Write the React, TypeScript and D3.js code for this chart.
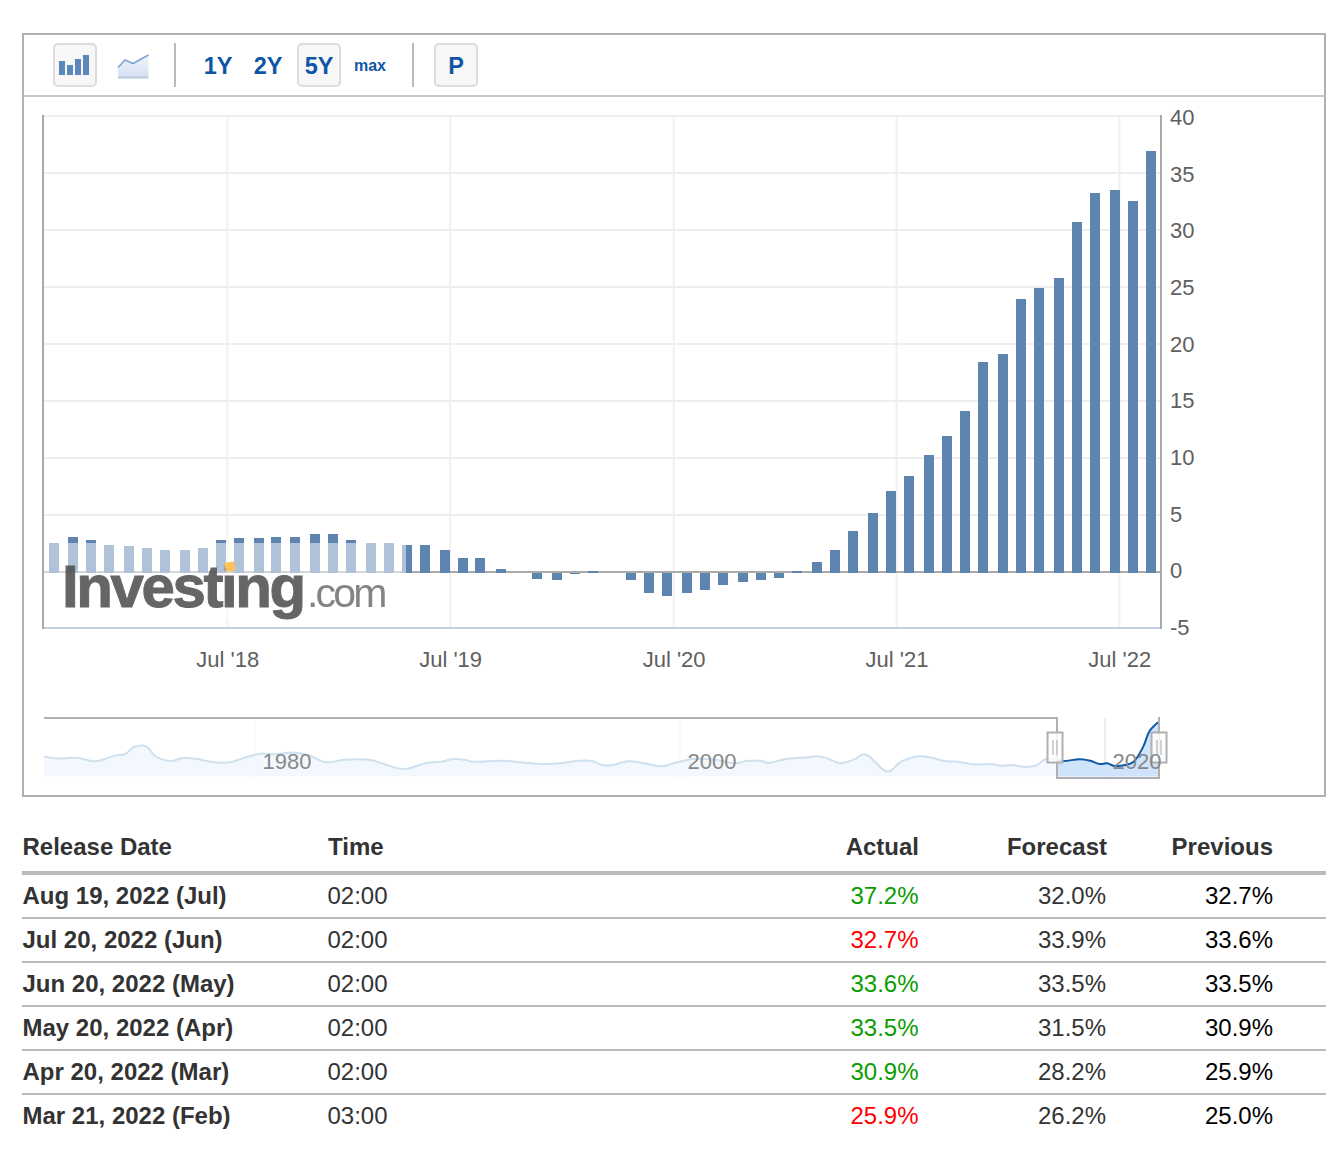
import * as d3 from "d3";

// ---- main chart data ----
const barDates = [
  "2017-09-20", "2017-10-22", "2017-11-20", "2017-12-20", "2018-01-22", "2018-02-20", "2018-03-22", "2018-04-23", "2018-05-23", "2018-06-21",
  "2018-07-20", "2018-08-22", "2018-09-20", "2018-10-20", "2018-11-22", "2018-12-21", "2019-01-20", "2019-02-22", "2019-03-23", "2019-04-22",
  "2019-05-21", "2019-06-23", "2019-07-22", "2019-08-20", "2019-09-23", "2019-10-22", "2019-11-20", "2019-12-23", "2020-01-22", "2020-02-20",
  "2020-03-24", "2020-04-23", "2020-05-22", "2020-06-20", "2020-07-23", "2020-08-22", "2020-09-20", "2020-10-23", "2020-11-22", "2020-12-21",
  "2021-01-20", "2021-02-21", "2021-03-23", "2021-04-21", "2021-05-24", "2021-06-23", "2021-07-22", "2021-08-24", "2021-09-22", "2021-10-22",
  "2021-11-20", "2021-12-23", "2022-01-22", "2022-02-20", "2022-03-25", "2022-04-23", "2022-05-23", "2022-06-25", "2022-07-24", "2022-08-22",
];
const barValues = [
  2.55, 3.1, 2.8, 2.4, 2.3, 2.1, 1.9, 1.9, 2.1, 2.8,
  3.0, 3.0, 3.1, 3.1, 3.3, 3.3, 2.8, 2.55, 2.55, 2.4,
  2.4, 1.9, 1.2, 1.2, 0.3, 0, -0.6, -0.7, -0.2, 0.1,
  0, -0.7, -1.8, -2.1, -1.8, -1.6, -1.1, -0.9, -0.7, -0.5,
  0.1, 0.9, 1.9, 3.6, 5.2, 7.1, 8.4, 10.3, 11.9, 14.1,
  18.4, 19.1, 24.0, 24.9, 25.8, 30.7, 33.3, 33.5, 32.6, 37.0,
];
const yTicks = [-5, 0, 5, 10, 15, 20, 25, 30, 35, 40];
const xTickDates = ["2018-07-01", "2019-07-01", "2020-07-01", "2021-07-01", "2022-07-01"];
const xTickLabels = ["Jul '18", "Jul '19", "Jul '20", "Jul '21", "Jul '22"];

// ---- navigator series (whole history) ----
const navYears = [
  1970.07, 1970.9, 1971.6, 1972.3, 1972.6, 1973.4, 1973.9, 1974.3, 1974.9, 1975.3,
  1976.05, 1976.6, 1977.3, 1977.65, 1978.3, 1978.9, 1979.4, 1980.25, 1980.85, 1981.85,
  1982.5, 1983.35, 1984.2, 1985.45, 1986.2, 1987.05, 1988.05, 1988.75, 1989.3, 1989.85,
  1990.25, 1991.6, 1992.6, 1993.6, 1994.35, 1995.1, 1995.85, 1996.4, 1996.8, 1997.55,
  1998.25, 1999.15, 1999.75, 2000.6, 2001.6, 2002.65, 2003.1, 2003.85, 2004.15, 2005,
  2006.1, 2006.5, 2007, 2007.5, 2008.25, 2008.55, 2008.85, 2009.25, 2009.65, 2009.9,
  2010.35, 2010.75, 2011.2, 2011.85, 2012.4, 2013.1, 2013.8, 2014.75, 2015.05, 2015.6,
  2016.3, 2016.8, 2017.2, 2018.05, 2018.8, 2019.3, 2019.75, 2020.1, 2020.4, 2020.95,
  2021.35, 2021.8, 2022.1, 2022.5,
];
const navValues = [
  7.0, 5.3, 6.1, 3.2, 3.2, 7.9, 9.3, 15.4, 15.7, 7.6,
  3.2, 5.8, 4.9, 3.5, 1.8, 2.4, 5.5, 9.6, 9.0, 10.5,
  8.4, 2.0, 4.4, 4.1, -0.3, -3.7, 1.5, 2.6, 4.9, 4.4,
  2.6, 3.5, 2.0, 0.6, 1.2, 3.2, 3.2, -0.5, -0.5, 2.9,
  1.5, -1.4, 1.5, 5.0, 4.5, 1.2, 3.2, 3.2, 1.5, 5.0,
  6.7, 7.3, 5.0, 1.5, 5.0, 8.7, 7.8, 1.2, -5.5, -5.5,
  2.1, 5.2, 7.3, 6.1, 3.2, 2.6, 0.3, 0.3, -0.9, -0.3,
  -2.0, -0.3, 4.7, 3.2, 4.7, 3.5, 0.6, 1.2, -0.9, -0.3,
  2.6, 15.7, 29.3, 37.0,
];
const navTickYears = [1980, 2000, 2020];

// ---- table ----
const tableHeaders = ["Release Date", "Time", "Actual", "Forecast", "Previous"];
const releaseLabels = ["Aug 19, 2022 (Jul)", "Jul 20, 2022 (Jun)", "Jun 20, 2022 (May)", "May 20, 2022 (Apr)", "Apr 20, 2022 (Mar)", "Mar 21, 2022 (Feb)"];
const releaseTimes = ["02:00", "02:00", "02:00", "02:00", "02:00", "03:00"];
const actuals = [37.2, 32.7, 33.6, 33.5, 30.9, 25.9];
const forecasts = [32.0, 33.9, 33.5, 31.5, 28.2, 26.2];
const previous = [32.7, 33.6, 33.5, 30.9, 25.9, 25.0];

const FONT = "'Liberation Sans', Arial, sans-serif";
const BLUE = "#0f56a6";
const BAR = "#5e84b0";

const parse = (s: string) => new Date(s + "T00:00:00Z");

// plot box
const plotLeft = 43;
const plotRight = 1161;
const plotTop = 116;
const plotBottom = 628;

const x = d3.scaleUtc().domain([parse("2018-07-01"), parse("2022-07-01")]).range([227, 1119]);
const y = d3.scaleLinear().domain([-5, 40]).range([629, 116.4]);
// tick labels sit on a slightly tighter step than the grid
const yLabel = d3.scaleLinear().domain([-5, 40]).range([635, 125]);

// navigator
const navX = d3.scaleLinear().domain([1980, 2020]).range([255, 1105]);
const navY = d3.scaleLinear().domain([0, 37]).range([764.7, 722.2]);
const navBase = 776.5;
const navData = navYears.map((yr, i) => [yr, navValues[i]] as [number, number]);
const navCurve = d3.curveCatmullRom.alpha(0.5);
const navLine = d3.line<[number, number]>().x((d) => navX(d[0])).y((d) => navY(d[1])).curve(navCurve);
const navArea = d3.area<[number, number]>().x((d) => navX(d[0])).y0(navBase).y1((d) => navY(d[1])).curve(navCurve);

function ToolButton({ x: bx }: { x: number }) {
  return <rect x={bx} y={44} width={42} height={42} rx={4} fill="#f7f7f7" stroke="#dcdcdc" strokeWidth={2} />;
}

function Handle({ cx }: { cx: number }) {
  return (
    <g>
      <rect x={cx - 7.5} y={732.5} width={15} height={30} fill="#fff" fillOpacity={0.85} stroke="#b0b0b0" strokeWidth={2} />
      <line x1={cx - 2} x2={cx - 2} y1={740} y2={755} stroke="#b8b8b8" strokeWidth={1.3} />
      <line x1={cx + 2} x2={cx + 2} y1={740} y2={755} stroke="#b8b8b8" strokeWidth={1.3} />
    </g>
  );
}

export default function App() {
  const barIconValues = [14, 10, 16, 20];
  const rowY = (i: number) => 904 + i * 44;
  const zero = Math.round(y(0));

  return (
    <svg
      width={1335}
      height={1151}
      viewBox="0 0 1335 1151"
      style={{ position: "absolute", left: 0, top: 0, background: "#fff" }}
      fontFamily={FONT}
    >
      <defs>
        <linearGradient id="areaIcon" x1="0" x2="0" y1="0" y2="1">
          <stop offset="0" stopColor="#f0f4fb" />
          <stop offset="1" stopColor="#d5e0f2" />
        </linearGradient>
        <filter id="soft" x="-5%" y="-5%" width="110%" height="110%">
          <feGaussianBlur stdDeviation="0.5" />
        </filter>
        <clipPath id="navSelected">
          <rect x={1057} y={715} width={102} height={64} />
        </clipPath>
      </defs>

      {/* frame + toolbar */}
      <rect x={23} y={34} width={1302} height={762} fill="#fff" stroke="#b0b0b0" strokeWidth={2} />
      <line x1={23} x2={1325} y1={96} y2={96} stroke="#c8c8c8" strokeWidth={2} />
      <ToolButton x={54} />
      {barIconValues.map((h, i) => (
        <rect key={i} x={59 + i * 8} y={75 - h} width={6} height={h} fill="#5b87bb" />
      ))}
      <path d="M118,67.5L125,60L133,63.5L148.5,55V78H118Z" fill="url(#areaIcon)" />
      <path d="M118,67.5L125,60L133,63.5L148.5,55" fill="none" stroke="#7da5d6" strokeWidth={1.6} />
      <line x1={118} x2={148.5} y1={77.5} y2={77.5} stroke="#bcc8dc" strokeWidth={2} />
      <line x1={175} x2={175} y1={43} y2={87} stroke="#bbb" strokeWidth={2} />
      <line x1={413} x2={413} y1={43} y2={87} stroke="#bbb" strokeWidth={2} />
      <ToolButton x={298} />
      <ToolButton x={435} />
      {[["1Y", 218], ["2Y", 268], ["5Y", 319], ["P", 456]].map(([t, cx]) => (
        <text key={t} x={cx} y={73.5} textAnchor="middle" fontSize={23.5} fontWeight="bold" fill={BLUE}>
          {t}
        </text>
      ))}
      <text x={370} y={71} textAnchor="middle" fontSize={16} fontWeight="bold" fill={BLUE}>
        max
      </text>

      {/* grid */}
      {yTicks.filter((t) => t > 0).map((t) => (
        <line key={t} x1={plotLeft} x2={plotRight} y1={Math.round(y(t))} y2={Math.round(y(t))} stroke="#eeeeee" strokeWidth={2} />
      ))}
      {xTickDates.map((d) => (
        <line key={d} x1={x(parse(d)) + 0.4} x2={x(parse(d)) + 0.4} y1={plotTop} y2={plotBottom} stroke="#f1f1f1" strokeWidth={2} />
      ))}
      <line x1={plotLeft} x2={plotRight} y1={plotBottom} y2={plotBottom} stroke="#c0d0e0" strokeWidth={2} />
      <line x1={plotLeft} x2={plotRight} y1={zero} y2={zero} stroke="#aaaaaa" strokeWidth={2} />
      <line x1={plotLeft} x2={plotLeft} y1={plotTop - 1} y2={plotBottom + 1} stroke="#aaaaaa" strokeWidth={2} />
      <line x1={plotRight} x2={plotRight} y1={plotTop - 1} y2={plotBottom + 1} stroke="#aaaaaa" strokeWidth={2} />

      {/* bars */}
      {barValues.map((v, i) => {
        if (v === 0) return null;
        const bx = Math.round(x(parse(barDates[i])) - 5);
        const top = Math.round(y(Math.max(v, 0)));
        const bottom = Math.round(y(Math.min(v, 0)));
        return <rect key={i} x={bx} y={v > 0 ? top : zero + 1} width={10} height={v > 0 ? zero + 1 - top : bottom - zero - 1} fill={BAR} />;
      })}

      {/* watermark over the bars */}
      <rect x={44} y={543} width={362} height={78} fill="#fff" fillOpacity={0.5} />
      <g filter="url(#soft)">
        <text x={62} y={607} fontSize={60} fontWeight="bold" fill="#4c4c4c" stroke="#4c4c4c" strokeWidth={1} opacity={0.85} letterSpacing={-2.4}>
          Investing
        </text>
        <text x={307} y={607} fontSize={41} fill="#777" opacity={0.9} letterSpacing={-2.8}>
          .com
        </text>
        <rect x={225} y={562} width={10} height={9} rx={1} transform="rotate(-14 230 567)" fill="#fdc15d" />
      </g>

      {/* axis labels */}
      {yTicks.map((t) => (
        <text key={t} x={1170} y={yLabel(t)} fontSize={22} fill="#606060">
          {t}
        </text>
      ))}
      {xTickDates.map((d, i) => (
        <text key={d} x={x(parse(d)) + 0.8} y={667} textAnchor="middle" fontSize={22} fill="#606060">
          {xTickLabels[i]}
        </text>
      ))}

      {/* navigator */}
      {navTickYears.map((yr) => (
        <line key={yr} x1={navX(yr)} x2={navX(yr)} y1={718} y2={778} stroke={yr === 2020 ? "#e8e8e8" : "#f8f8f8"} strokeWidth={1.5} />
      ))}
      <path d={navArea(navData) ?? ""} fill="#f3f8fe" />
      <path d={navLine(navData) ?? ""} fill="none" stroke="#cfe0ef" strokeWidth={2} />
      <g clipPath="url(#navSelected)">
        <path d={navArea(navData) ?? ""} fill="#cfe3fb" />
        <path d={navLine(navData) ?? ""} fill="none" stroke="#0f5aa8" strokeWidth={2} />
      </g>
      <path d="M44,718H1057V778H1159V717" fill="none" stroke="#b0b0b0" strokeWidth={2} />
      <Handle cx={1055} />
      <Handle cx={1159} />
      {navTickYears.map((yr) => (
        <text key={yr} x={navX(yr) + 32} y={769} textAnchor="middle" fontSize={22} fill="#888">
          {yr}
        </text>
      ))}

      {/* table */}
      <g fontSize={24}>
        <g fontWeight="bold" fill="#333">
          <text x={22.5} y={855}>{tableHeaders[0]}</text>
          <text x={328} y={855}>{tableHeaders[1]}</text>
          <text x={919} y={855} textAnchor="end">{tableHeaders[2]}</text>
          <text x={1107} y={855} textAnchor="end">{tableHeaders[3]}</text>
          <text x={1273} y={855} textAnchor="end">{tableHeaders[4]}</text>
        </g>
        <rect x={22} y={871} width={1304} height={4} fill="#bbbbbb" />
        {releaseLabels.map((label, i) => (
          <g key={label}>
            <text x={22.5} y={rowY(i)} fontWeight="bold" fill="#333">{label}</text>
            <text x={327.5} y={rowY(i)} fill="#333">{releaseTimes[i]}</text>
            <text x={918.5} y={rowY(i)} textAnchor="end" fill={actuals[i] >= forecasts[i] ? "#0a9d00" : "#ff0000"}>
              {actuals[i].toFixed(1)}%
            </text>
            <text x={1106} y={rowY(i)} textAnchor="end" fill="#333">{forecasts[i].toFixed(1)}%</text>
            <text x={1273} y={rowY(i)} textAnchor="end" fill="#000">{previous[i].toFixed(1)}%</text>
            {i < releaseLabels.length - 1 && (
              <line x1={22} x2={1326} y1={rowY(i) + 14} y2={rowY(i) + 14} stroke="#bbbbbb" strokeWidth={2} />
            )}
          </g>
        ))}
      </g>
    </svg>
  );
}
